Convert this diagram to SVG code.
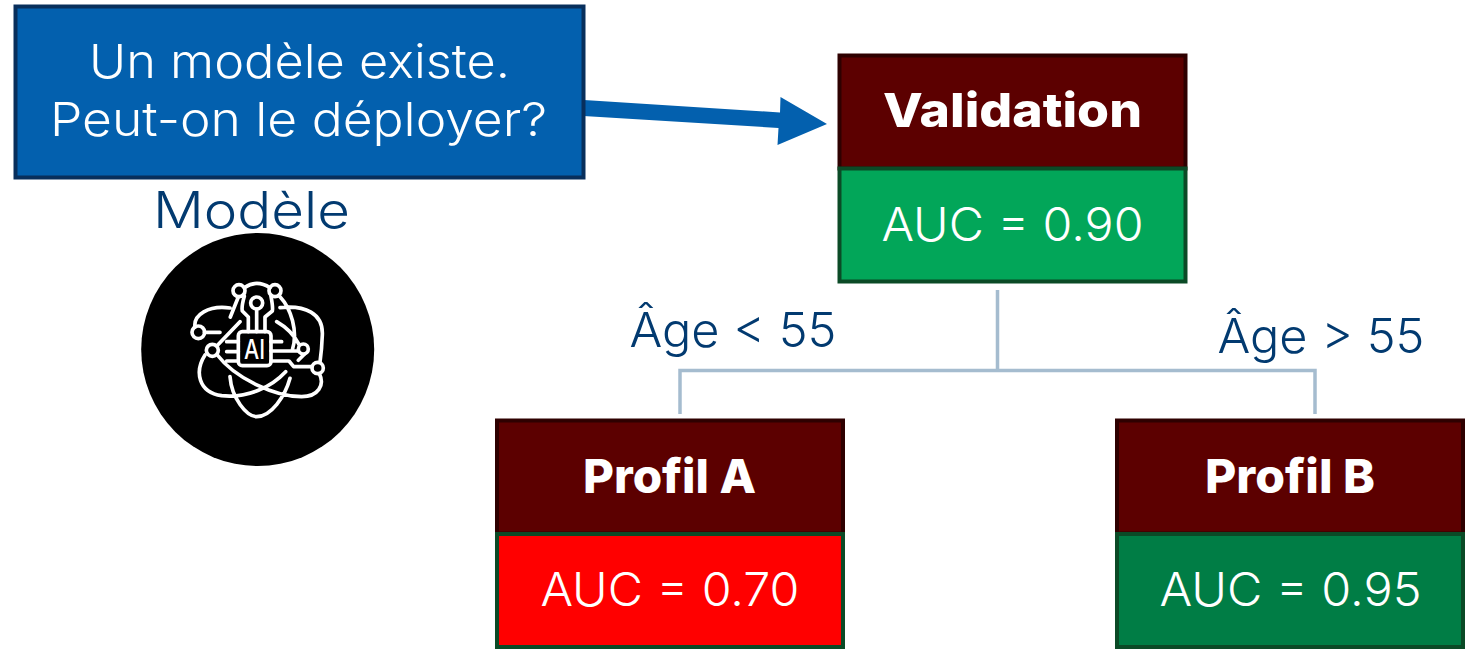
<svg xmlns="http://www.w3.org/2000/svg" width="1473" height="650" viewBox="0 0 1473 650">
<style>
text{font-family:Inter,"Liberation Sans",sans-serif}
.w{fill:#fff;font-size:47px;font-weight:350}
.b{fill:#fff;font-size:47px;font-weight:800}
.n{fill:#023A70;font-size:48px;font-weight:350}
.head{fill:#5C0000;stroke:#2E0000;stroke-width:4}
.gs{stroke:#0B4A26;stroke-width:4}
.conn{fill:none;stroke:#A5BCCF;stroke-width:3.500}
.ic{fill:none;stroke:#fff;stroke-width:11;stroke-linecap:round;stroke-linejoin:round}
</style>
<g id="connectors">
<path class="conn" d="M997.500 290V370.500M680 414V370.500H1315V414"/>
<polygon fill="#0360AE" points="584,100 780,112.500 780.500,97 827,124 777.500,145 778.500,128 583.500,116"/>
</g>
<g id="question">
<rect x="15.500" y="6.500" width="568" height="171" fill="#0360AE" stroke="#082F5C" stroke-width="4"/>
<text class="w" x="89" y="78" textLength="421" lengthAdjust="spacingAndGlyphs">Un modèle existe.</text>
<text class="w" x="50" y="136" textLength="497" lengthAdjust="spacingAndGlyphs">Peut-on le déployer?</text>
</g>
<g id="modele">
<text class="n" x="153" y="228" font-size="50" style="font-size:50px" textLength="197" lengthAdjust="spacingAndGlyphs">Modèle</text>
<circle cx="257.700" cy="349.500" r="116.500" fill="#000"/>
<g transform="translate(185 275) scale(.3333)">
<rect class="ic" x="160" y="170" width="98" height="102" rx="12"/>
<circle class="ic" cx="162" cy="47" r="18"/><circle class="ic" cx="270" cy="47" r="18"/><circle class="ic" cx="215" cy="84" r="18"/>
<circle class="ic" cx="40" cy="172" r="19"/><circle class="ic" cx="82" cy="226" r="18"/><circle class="ic" cx="355" cy="222" r="15"/><circle class="ic" cx="398" cy="279" r="17"/>
<path class="ic" d="M178 38Q215 12 255 38M215 102V170M178 64C172 85 170 100 172 108L190 126V170M258 64C262 85 264 100 262 108L240 126V170M160 66L136 126M135 99C70 90 25 120 30 156M58 172H105M165 140L96 212M97 240C150 310 270 365 350 365C400 365 420 330 403 296M285 98C360 90 415 115 412 180C411 210 408 240 405 262M60 240C28 290 40 352 110 362C190 370 260 335 302 290M285 65C318 100 340 170 322 225M275 140C310 160 330 185 342 208M135 305C140 370 185 425 215 425C258 425 300 365 315 310M125 200H160M125 230H160M125 258H160M258 200H290M258 228H340M258 258H312L326 275H381M340 256L358 238"/>
<text x="244" y="359.500" fill="#fff" font-size="27" font-weight="500" transform="scale(3) translate(-185 -275)" textLength="21" lengthAdjust="spacingAndGlyphs">AI</text>
</g>
</g>
<g id="validation">
<rect class="head" x="839.500" y="55.500" width="346" height="113"/>
<rect class="gs" fill="#02A659" x="839.500" y="168.500" width="346" height="113"/>
<text class="b" x="883" y="127" textLength="259" lengthAdjust="spacingAndGlyphs">Validation</text>
<text class="w" x="881.500" y="240.500" textLength="262" lengthAdjust="spacingAndGlyphs">AUC = 0.90</text>
</g>
<g id="label-a"><text class="n" x="629.500" y="347" textLength="207" lengthAdjust="spacingAndGlyphs">Âge &lt; 55</text></g>
<g id="label-b"><text class="n" x="1217.500" y="353" textLength="207" lengthAdjust="spacingAndGlyphs">Âge &gt; 55</text></g>
<g id="profil-a">
<rect class="head" x="497" y="420.500" width="346" height="113"/>
<rect class="gs" fill="#FF0000" x="497" y="534" width="346" height="113"/>
<text class="b" x="583" y="492.700" textLength="173" lengthAdjust="spacingAndGlyphs">Profil A</text>
<text class="w" x="540.500" y="605.500" textLength="259" lengthAdjust="spacingAndGlyphs">AUC = 0.70</text>
</g>
<g id="profil-b">
<rect class="head" x="1117" y="420.500" width="346" height="113"/>
<rect class="gs" fill="#007D45" x="1117" y="534" width="346" height="113"/>
<text class="b" x="1205" y="492.700" textLength="170" lengthAdjust="spacingAndGlyphs">Profil B</text>
<text class="w" x="1159.500" y="605.500" textLength="262" lengthAdjust="spacingAndGlyphs">AUC = 0.95</text>
</g>
</svg>
